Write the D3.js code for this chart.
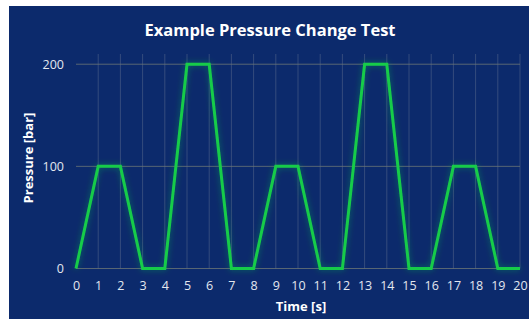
<!DOCTYPE html>
<html lang="en">
<head>
<meta charset="UTF-8">
<title>Example Pressure Change Test</title>
<script src="https://d3js.org/d3.v7.min.js"></script>
<style>
  body { margin: 0; background: #ffffff; }
  text { font-family: "Open Sans", "DejaVu Sans", sans-serif; }
</style>
</head>
<body>
<div id="chart"></div>
<script>
// data
var times     = [0, 1, 2, 3, 4, 5, 6, 7, 8, 9, 10, 11, 12, 13, 14, 15, 16, 17, 18, 19, 20];
var pressures = [0, 100, 100, 0, 0, 200, 200, 0, 0, 100, 100, 0, 0, 200, 200, 0, 0, 100, 100, 0, 0];
var yTicks    = [0, 100, 200];

var W = 530, H = 321;

var svg = d3.select("#chart").append("svg")
    .attr("width", W)
    .attr("height", H);

// soft glow for the line
var defs = svg.append("defs");
var glow = defs.append("filter").attr("id", "glow")
    .attr("x", "-20%").attr("y", "-20%").attr("width", "140%").attr("height", "140%");
glow.append("feGaussianBlur").attr("stdDeviation", 3).attr("result", "blur");
glow.append("feComponentTransfer").attr("in", "blur").attr("result", "softblur")
  .append("feFuncA").attr("type", "linear").attr("slope", 0.45);
var merge = glow.append("feMerge");
merge.append("feMergeNode").attr("in", "softblur");
merge.append("feMergeNode").attr("in", "SourceGraphic");

// background panel
svg.append("rect")
    .attr("x", 9).attr("y", 6)
    .attr("width", 520).attr("height", 313)
    .attr("fill", "#0c2a6c");

var x = d3.scaleLinear().domain([0, 20]).range([76, 520]);
var y = d3.scaleLinear().domain([0, 210]).range([268.5, 54]);

// vertical gridlines
svg.append("g")
  .selectAll("line")
  .data(times.slice(1))
  .join("line")
    .attr("x1", function(d) { return x(d); })
    .attr("x2", function(d) { return x(d); })
    .attr("y1", y(0))
    .attr("y2", y(210))
    .attr("stroke", "#56688c")
    .attr("stroke-opacity", 0.55)
    .attr("stroke-width", 1);

// horizontal gridlines
svg.append("g")
  .selectAll("line")
  .data(yTicks)
  .join("line")
    .attr("x1", x(0))
    .attr("x2", x(20))
    .attr("y1", function(d) { return y(d); })
    .attr("y2", function(d) { return y(d); })
    .attr("stroke", "#6b7575")
    .attr("stroke-opacity", 0.8)
    .attr("stroke-width", 1);

// axes (labels only, no domain line)
var xAxis = svg.append("g")
    .attr("transform", "translate(0," + y(0) + ")")
    .call(d3.axisBottom(x).tickValues(times).tickFormat(d3.format("d")).tickSize(0).tickPadding(13));
xAxis.select(".domain").remove();
xAxis.selectAll("text")
    .attr("fill", "#e3e7ef")
    .style("font-size", "12.5px");

var yAxis = svg.append("g")
    .attr("transform", "translate(" + x(0) + ",0)")
    .call(d3.axisLeft(y).tickValues(yTicks).tickSize(0).tickPadding(12));
yAxis.select(".domain").remove();
yAxis.selectAll("text")
    .attr("fill", "#e3e7ef")
    .style("font-size", "12.5px");

// the pressure line
var line = d3.line()
    .x(function(d, i) { return x(times[i]); })
    .y(function(d) { return y(d); });

svg.append("path")
    .datum(pressures)
    .attr("d", line)
    .attr("fill", "none")
    .attr("stroke", "#18cc4a")
    .attr("stroke-width", 3)
    .attr("stroke-linejoin", "miter")
    .attr("filter", "url(#glow)");

// titles
svg.append("text")
    .attr("x", 270).attr("y", 36)
    .attr("text-anchor", "middle")
    .attr("fill", "#ffffff")
    .style("font-size", "16.5px")
    .style("font-weight", "bold")
    .text("Example Pressure Change Test");

svg.append("text")
    .attr("x", 301).attr("y", 311)
    .attr("text-anchor", "middle")
    .attr("fill", "#ffffff")
    .style("font-size", "13px")
    .style("font-weight", "bold")
    .text("Time [s]");

svg.append("text")
    .attr("transform", "translate(33,158) rotate(-90)")
    .attr("text-anchor", "middle")
    .attr("fill", "#ffffff")
    .style("font-size", "13px")
    .style("font-weight", "bold")
    .text("Pressure [bar]");
</script>
</body>
</html>
